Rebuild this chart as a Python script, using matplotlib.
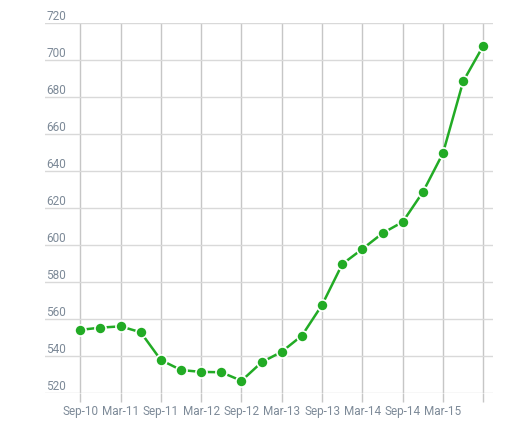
import numpy as np
import matplotlib.pyplot as plt

# quarterly values, Sep-10 .. Sep-15
values = [554.1, 555.3, 556.0, 552.8, 537.8, 532.4, 531.4, 531.2, 526.6, 536.6,
          542.3, 551.0, 567.6, 589.6, 597.8, 606.3, 612.4, 628.5, 649.6, 688.3, 707.6]
tick_labels = ['Sep-10', 'Mar-11', 'Sep-11', 'Mar-12', 'Sep-12', 'Mar-13',
               'Sep-13', 'Mar-14', 'Sep-14', 'Mar-15', '']
y_ticks = [520, 540, 560, 580, 600, 620, 640, 660, 680, 700, 720]

x = np.arange(len(values))

fig = plt.figure(figsize=(5.32, 4.22), dpi=100)
ax = fig.add_axes([45 / 532, 1 - 393 / 422, (493 - 45) / 532, (393 - 22.7) / 422])

ax.plot(x, values, color='#22ab25', linewidth=1.8, marker='o', markersize=8,
        markerfacecolor='#22ab25', markeredgecolor='white', markeredgewidth=1.2,
        zorder=3)

ax.set_xlim(-1.75, 20.48)
ax.set_ylim(520, 720)

ax.set_xticks(np.arange(0, 21, 2))
ax.set_xticklabels(tick_labels)
ax.set_yticks(y_ticks)

for s in ax.spines.values():
    s.set_visible(False)

ax.grid(axis='y', color='#d9d9d9', linewidth=1)
ax.grid(axis='x', color='#c6c6c6', linewidth=1)
ax.set_axisbelow(True)

ax.tick_params(axis='x', length=6.5, color='#c6c6c6', width=1, pad=2,
               labelsize=8.5, labelcolor='#7d8a98')
ax.tick_params(axis='y', length=0, pad=-1, labelsize=8.5, labelcolor='#7d8a98')
for lab in ax.get_yticklabels():
    lab.set_horizontalalignment('left')
    lab.set_verticalalignment('bottom')
for lab in ax.get_xticklabels() + ax.get_yticklabels():
    lab.set_fontfamily('Roboto')

fig.savefig('out.png', dpi=100)
